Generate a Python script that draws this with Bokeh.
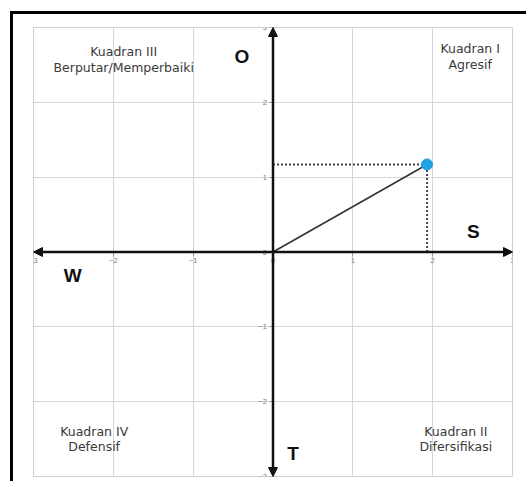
from bokeh.plotting import figure
from bokeh.models import Range1d, FixedTicker, Arrow, NormalHead
from bokeh.core.properties import value
from bokeh.embed import file_html
from bokeh.resources import INLINE

# ---- data ----
ticks = [-3, -2, -1, 0, 1, 2, 3]
point_x = [1.93]
point_y = [1.17]

quad_labels = ["Kuadran III\nBerputar/Memperbaiki", "Kuadran I\nAgresif",
               "Kuadran IV\nDefensif", "Kuadran II\nDifersifikasi"]
quad_x = [-1.87, 2.47, -2.24, 2.29]
quad_y = [2.57, 2.61, -2.5, -2.5]

letters = ["O", "S", "W", "T"]
letter_x = [-0.39, 2.51, -2.51, 0.25]
letter_y = [2.61, 0.27, -0.32, -2.69]

lo, hi = ticks[0], ticks[-1]

p = figure(width=516, height=470, x_range=Range1d(lo, hi), y_range=Range1d(lo, hi),
           output_backend="svg", toolbar_location=None,
           min_border_left=20, min_border_right=17, min_border_top=13, min_border_bottom=8)
p.background_fill_color = "white"
p.border_fill_color = "white"
p.outline_line_color = "#cfcfcf"
p.styles = {"border-top": "3px solid black", "border-left": "3px solid black",
            "margin-left": "10px", "margin-top": "11px"}

for ax in (p.xaxis, p.yaxis):
    ax.fixed_location = 0
    ax.ticker = FixedTicker(ticks=ticks)
    ax.minor_tick_line_color = None
    ax.major_tick_in = 0
    ax.major_tick_out = 4
    ax.major_tick_line_color = "#9a9a9a"
    ax.axis_line_color = None
    ax.major_label_text_font = "Liberation Sans"
    ax.major_label_text_font_size = "7.5px"
    ax.major_label_text_color = "#7a7a7a"
    ax.major_label_standoff = 2

p.xgrid.ticker = FixedTicker(ticks=ticks)
p.ygrid.ticker = FixedTicker(ticks=ticks)
p.grid.grid_line_color = "#d6d6d6"
p.grid.grid_line_width = 1

# axis arrows
for xe, ye in [(hi, 0), (lo, 0), (0, hi), (0, lo)]:
    p.add_layout(Arrow(x_start=0, y_start=0, x_end=xe, y_end=ye,
                       line_color="#111111", line_width=2.5,
                       end=NormalHead(size=9, fill_color="#111111", line_color="#111111")))

# dotted guides
p.line([0, point_x[0]], [point_y[0], point_y[0]], line_color="#444444", line_width=2, line_dash="2 2")
p.line([point_x[0], point_x[0]], [0, point_y[0]], line_color="#444444", line_width=2, line_dash="2 2")
# vector line
p.line([0, point_x[0]], [0, point_y[0]], line_color="#333333", line_width=1.6)
p.scatter(point_x, point_y, size=11, fill_color="#1fa3e3", line_color="#1fa3e3")

p.text(x=quad_x, y=quad_y, text=quad_labels, text_align="center", text_baseline="middle",
       text_font=value("DejaVu Sans"), text_font_size="12.5px", text_color="#3a3a3a",
       text_line_height=1.05)
p.text(x=letter_x, y=letter_y, text=letters, text_align="center", text_baseline="middle",
       text_font=value("Liberation Sans"), text_font_style="bold", text_font_size="19px",
       text_color="#111111")

open("out.html", "w").write(file_html(p, INLINE))
